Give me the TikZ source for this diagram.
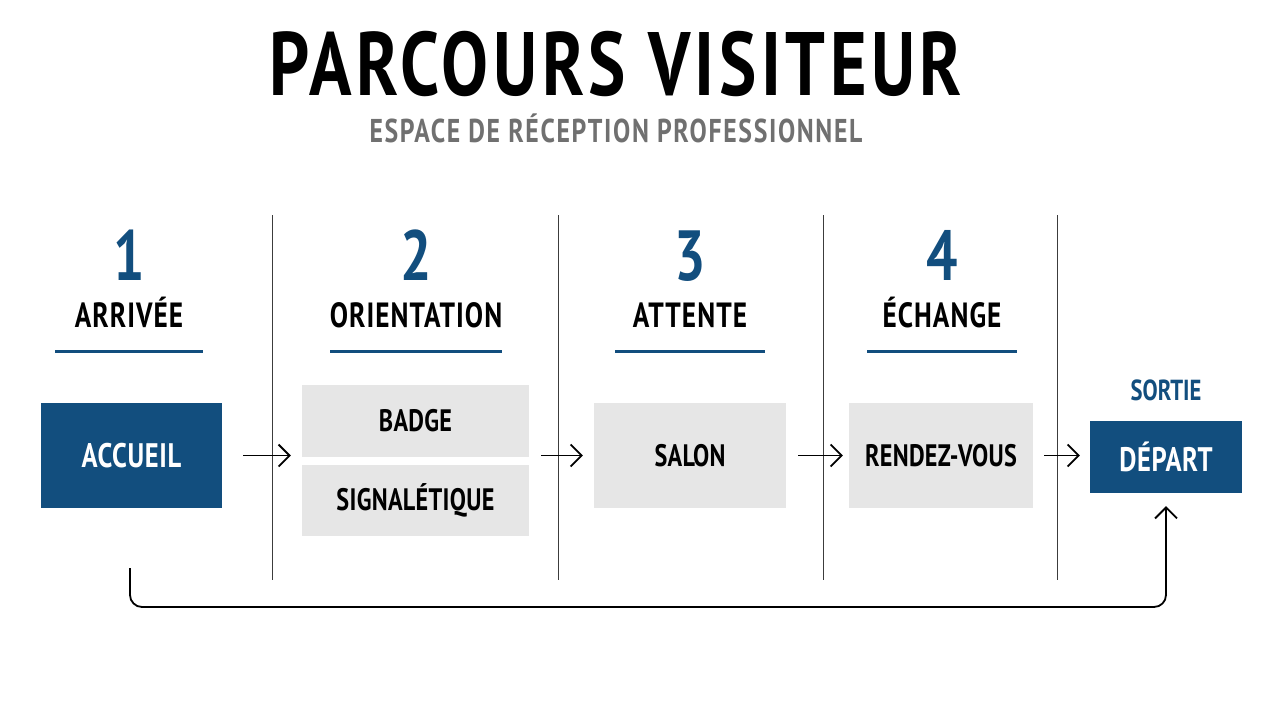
\documentclass[tikz,border=0pt]{standalone}
\usepackage{fontspec}
\setmainfont{PT Sans}[FakeStretch=0.78]
\usetikzlibrary{arrows.meta,positioning,calc}
\definecolor{navy}{RGB}{18,78,126}
\definecolor{boxgray}{RGB}{230,230,230}
\definecolor{subgray}{RGB}{112,112,112}
\definecolor{rulegray}{RGB}{60,60,60}
\newcommand{\fsz}[1]{\fontsize{#1}{#1}\selectfont}
\newcommand{\spaced}[1]{\addfontfeature{LetterSpace=#1}}

\begin{document}
\begin{tikzpicture}[x=1pt,y=-1pt,font=\bfseries,
    stepnum/.style={anchor=base,text=navy,font=\bfseries\fsz{71}},
    stephead/.style={anchor=base,text=black,font=\bfseries\fsz{35}\spaced{3}},
    graybox/.style={rectangle,fill=boxgray,inner sep=0pt,font=\bfseries\fsz{31}\spaced{1}},
    bluebox/.style={rectangle,fill=navy,text=white,inner sep=0pt,font=\bfseries\fsz{34}\spaced{2}},
    flow/.style={line width=1.8pt,-{Straight Barb[length=11pt,width=22pt]}}]
    \useasboundingbox (0,0) rectangle (1280,702);
    % title
    \node[anchor=base] (title) at (616,95) {\fsz{90}\spaced{5}PARCOURS VISITEUR};
    \node[anchor=base,text=subgray] (subtitle) at (616,142)
        {\fsz{33}\spaced{5}ESPACE DE RÉCEPTION PROFESSIONNEL};
    % separators
    \foreach \x in {272,558,823,1057}
        \draw[rulegray,line width=1pt] (\x,215) -- (\x,580);
    % step columns
    \foreach \x/\n/\t/\w in {129/1/ARRIVÉE/148,416/2/ORIENTATION/172,690/3/ATTENTE/150,942/4/ÉCHANGE/150}{
        \node[stepnum] (num\n) at (\x,280) {\n};
        \node[stephead] (head\n) at (\x,327) {\t};
        \draw[navy,line width=3pt] (\x-\w/2,351) -- (\x+\w/2,351);
    }
    % boxes
    \node[bluebox,minimum width=181pt,minimum height=105pt] (accueil) at (131.5,455.5) {ACCUEIL};
    \node[graybox,minimum width=227pt,minimum height=72pt] (badge) at (415.5,421) {BADGE};
    \node[graybox,minimum width=227pt,minimum height=71pt] (signal) at (415.5,500.5) {SIGNALÉTIQUE};
    \node[inner sep=0pt,minimum width=227pt,minimum height=151pt] (orient) at (415.5,456) {};
    \node[graybox,minimum width=192pt,minimum height=105pt] (salon) at (690,455.5) {SALON};
    \node[graybox,minimum width=184pt,minimum height=105pt] (rdv) at (941,455.5) {RENDEZ-VOUS};
    \node[bluebox,minimum width=152pt,minimum height=72pt] (depart) at (1166,457) {DÉPART};
    \node[anchor=base,text=navy,font=\bfseries\fsz{29}] (sortie) at (1166,400) {SORTIE};
    % arrows
    \draw[flow,shorten <=21pt,shorten >=11pt] (accueil.east) -- (accueil.east -| orient.west);
    \draw[flow,shorten <=12pt,shorten >=11pt] (orient.east |- salon.west) -- (salon.west);
    \draw[flow,shorten <=12pt,shorten >=6pt] (salon.east) -- (rdv.west);
    \draw[flow,shorten <=11pt,shorten >=10pt] (rdv.east) -- (rdv.east -| depart.west);
    % return path
    \coordinate (loop) at (130,568);
    \coordinate (base) at (130,607);
    \draw[flow,rounded corners=12pt,shorten >=13pt] (loop) -- (base) -| (depart.south);
\end{tikzpicture}
\end{document}
